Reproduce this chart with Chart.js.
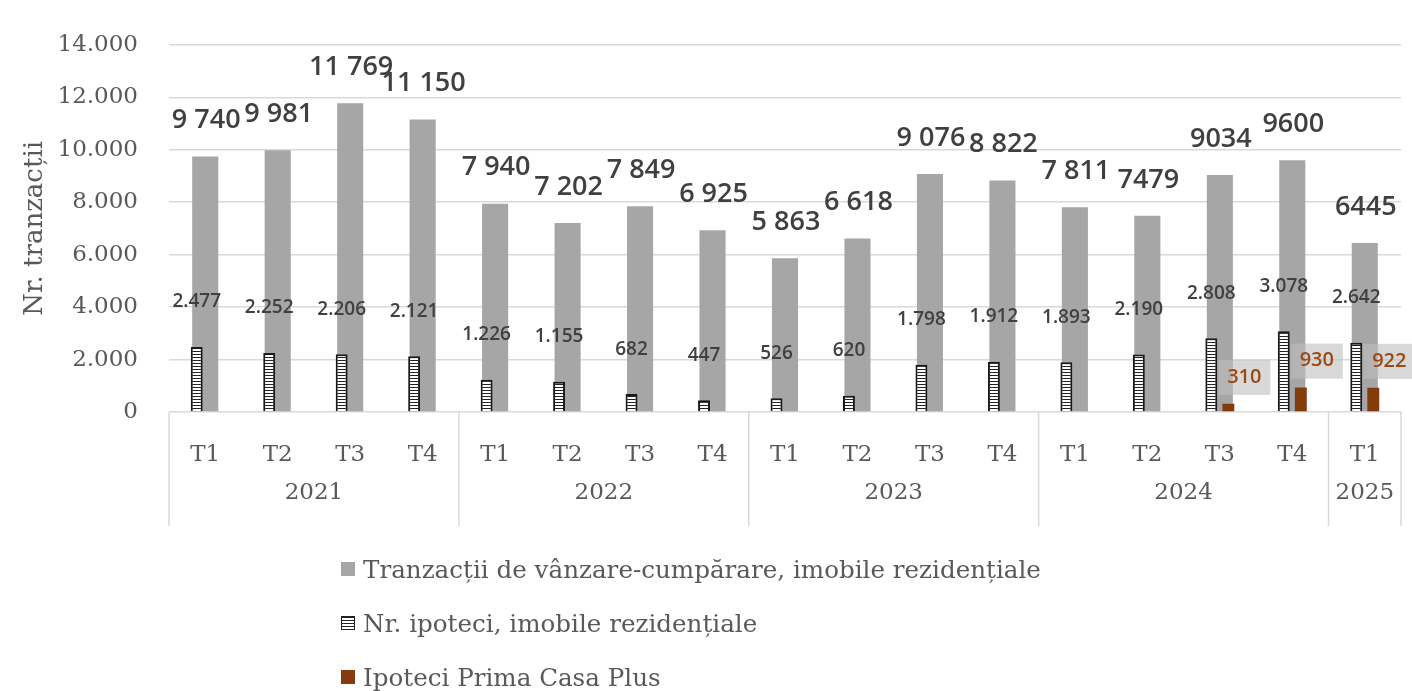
<!DOCTYPE html>
<html>
<head>
<meta charset="utf-8">
<script src="https://cdn.jsdelivr.net/npm/chart.js@4.4.1/dist/chart.umd.min.js"></script>
<style>
  body { margin: 0; background: #fff; }
  #wrap { position: relative; width: 1412px; height: 691px; }
  #legend { position: absolute; left: 341px; top: 542px; font-family: "DejaVu Serif", serif; font-size: 24.6px; color: #595959; }
  .item { height: 54px; display: flex; align-items: center; }
  .sw { width: 14px; height: 14px; margin-right: 8px; box-sizing: border-box; }
</style>
</head>
<body>
<div id="wrap">
  <canvas id="chart" width="1412" height="691"></canvas>
  <div id="legend">
    <div class="item"><span class="sw" style="background:#a6a6a6"></span>Tranzacții de vânzare-cumpărare, imobile rezidențiale</div>
    <div class="item"><span class="sw" style="border:1.5px solid #222;background:repeating-linear-gradient(to bottom,#222 0 1px,#fff 1px 3px)"></span>Nr. ipoteci, imobile rezidențiale</div>
    <div class="item"><span class="sw" style="background:#843c0c"></span>Ipoteci Prima Casa Plus</div>
  </div>
</div>
<script>
// quarters and the years they belong to
const quarters = ['T1', 'T2', 'T3', 'T4', 'T1', 'T2', 'T3', 'T4', 'T1', 'T2', 'T3', 'T4', 'T1', 'T2', 'T3', 'T4', 'T1'];
const years = ['2021', '2022', '2023', '2024', '2025'];
const quartersPerYear = [4, 4, 4, 4, 1];

const transactions = [9740, 9981, 11769, 11150, 7940, 7202, 7849, 6925, 5863, 6618, 9076, 8822, 7811, 7479, 9034, 9600, 6445];
const transactionLabels = ['9 740', '9 981', '11 769', '11 150', '7 940', '7 202', '7 849', '6 925', '5 863', '6 618', '9 076', '8 822', '7 811', '7479', '9034', '9600', '6445'];
const mortgages = [2477, 2252, 2206, 2121, 1226, 1155, 682, 447, 526, 620, 1798, 1912, 1893, 2190, 2808, 3078, 2642];
const primaCasa = [null, null, null, null, null, null, null, null, null, null, null, null, null, null, 310, 930, 922];

const grey = '#595959';
const dots = v => String(v).replace(/\B(?=(\d{3})+(?!\d))/g, '.');

// horizontal stripes for the mortgage bars
function stripes() {
  const c = document.createElement('canvas');
  c.width = 4; c.height = 3;
  const g = c.getContext('2d');
  g.fillStyle = '#fff'; g.fillRect(0, 0, 4, 3);
  g.fillStyle = '#222'; g.fillRect(0, 0, 4, 1);
  return g.createPattern(c, 'repeat');
}

// year row under the quarters, with separators
const yearAxis = {
  id: 'yearAxis',
  afterDraw(chart) {
    const { ctx, chartArea: a, scales: { x } } = chart;
    const half = (x.getPixelForValue(1) - x.getPixelForValue(0)) / 2;
    ctx.save();
    ctx.strokeStyle = '#d9d9d9';
    ctx.lineWidth = 1.5;
    ctx.fillStyle = grey;
    ctx.font = '23px "DejaVu Serif"';
    ctx.textAlign = 'center';
    ctx.textBaseline = 'middle';
    let i = 0;
    years.forEach((yr, k) => {
      const n = quartersPerYear[k];
      const left = x.getPixelForValue(i) - half;
      const right = x.getPixelForValue(i + n - 1) + half;
      ctx.beginPath();
      ctx.moveTo(left, a.bottom); ctx.lineTo(left, a.bottom + 114);
      if (k === years.length - 1) { ctx.moveTo(right, a.bottom); ctx.lineTo(right, a.bottom + 114); }
      ctx.stroke();
      ctx.fillText(yr, (left + right) / 2, a.bottom + 81);
      i += n;
    });
    ctx.restore();
  }
};

// value labels
const valueLabels = {
  id: 'valueLabels',
  afterDatasetsDraw(chart) {
    const ctx = chart.ctx;
    ctx.save();
    ctx.textAlign = 'center';
    ctx.textBaseline = 'middle';

    ctx.fillStyle = '#404040';
    ctx.font = '600 27px "Open Sans"';
    chart.getDatasetMeta(0).data.forEach((bar, i) => {
      ctx.fillText(transactionLabels[i], bar.x + 1, bar.y - 36);
    });

    ctx.font = '600 19px "Open Sans"';
    chart.getDatasetMeta(1).data.forEach((bar, i) => {
      ctx.fillText(dots(mortgages[i]), bar.x, bar.y - 45);
    });

    ctx.font = '600 20px "Open Sans"';
    chart.getDatasetMeta(2).data.forEach((bar, i) => {
      if (primaCasa[i] == null) return;
      const cx = bar.x + 16, cy = bar.y - 27;
      ctx.fillStyle = 'rgba(190,190,190,0.6)';
      ctx.fillRect(cx - 26, cy - 17, 52, 35);
      ctx.fillStyle = '#9c4a14';
      ctx.fillText(dots(primaCasa[i]), cx, cy);
    });
    ctx.restore();
  }
};

const chart = new Chart(document.getElementById('chart').getContext('2d'), {
  type: 'bar',
  data: {
    labels: quarters,
    datasets: [
      {
        label: 'Tranzacții de vânzare-cumpărare, imobile rezidențiale',
        data: transactions,
        grouped: false,
        backgroundColor: '#a6a6a6',
        categoryPercentage: 1,
        barPercentage: 0.36,
        order: 1
      },
      {
        label: 'Nr. ipoteci, imobile rezidențiale',
        data: mortgages,
        backgroundColor: stripes(),
        borderColor: '#1a1a1a',
        borderWidth: 2,
        categoryPercentage: 0.47,
        barPercentage: 0.7,
        order: 0
      },
      {
        label: 'Ipoteci Prima Casa Plus',
        data: primaCasa,
        backgroundColor: '#843c0c',
        categoryPercentage: 0.47,
        barPercentage: 0.7,
        order: 0
      }
    ]
  },
  options: {
    responsive: false,
    animation: false,
    layout: { padding: { left: 0, right: 11, top: 28, bottom: 149 } },
    plugins: { legend: { display: false }, tooltip: { enabled: false } },
    scales: {
      x: {
        grid: { display: false },
        border: { display: false },
        ticks: { color: grey, font: { family: 'DejaVu Serif', size: 23 }, padding: 21, maxRotation: 0, autoSkip: false },
        afterFit(s) { s.height = 130; }
      },
      y: {
        min: 0,
        max: 14000,
        ticks: { stepSize: 2000, padding: 31, color: grey, font: { family: 'DejaVu Serif', size: 23 }, callback: v => dots(v) },
        grid: { color: '#d9d9d9', lineWidth: 1.5, drawTicks: false },
        border: { display: false },
        title: { display: true, text: 'Nr. tranzacții', color: grey, font: { family: 'DejaVu Serif', size: 26, weight: 'normal' }, padding: { top: 20, bottom: 0 } },
        afterFit(s) { s.width = 169; }
      }
    }
  },
  plugins: [yearAxis, valueLabels]
});
</script>
</body>
</html>
